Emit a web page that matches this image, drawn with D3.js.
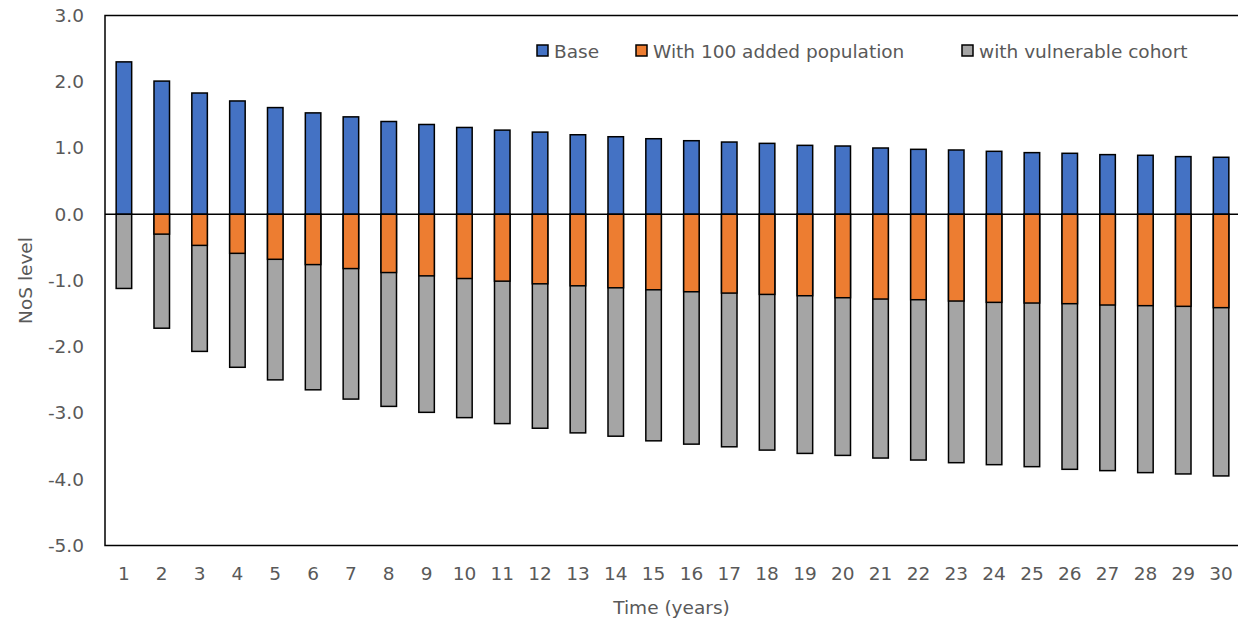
<!DOCTYPE html>
<html>
<head>
<meta charset="utf-8">
<script src="https://cdn.jsdelivr.net/npm/d3@7"></script>
<style>
body { margin: 0; background: #fff; }
svg { display: block; }
text { font-family: "DejaVu Sans", sans-serif; fill: #595959; }
</style>
</head>
<body>
<svg id="chart" width="1238" height="623"></svg>
<script>
const years = d3.range(1, 31).map(String);
const baseValues = [2.30, 2.01, 1.83, 1.71, 1.61, 1.53, 1.47, 1.40, 1.355, 1.31,
  1.27, 1.24, 1.20, 1.17, 1.14, 1.11, 1.09, 1.07, 1.04, 1.03,
  1.00, 0.98, 0.97, 0.95, 0.93, 0.92, 0.90, 0.89, 0.87, 0.86];
const addedPopValues = [0.0, -0.30, -0.47, -0.59, -0.68, -0.76, -0.82, -0.88, -0.93, -0.97,
  -1.01, -1.05, -1.08, -1.11, -1.14, -1.17, -1.19, -1.21, -1.23, -1.26,
  -1.28, -1.29, -1.31, -1.33, -1.34, -1.35, -1.37, -1.38, -1.39, -1.41];
const vulnerableValues = [-1.12, -1.72, -2.07, -2.31, -2.50, -2.65, -2.79, -2.90, -2.99, -3.07,
  -3.16, -3.23, -3.30, -3.35, -3.42, -3.47, -3.51, -3.56, -3.61, -3.64,
  -3.68, -3.71, -3.75, -3.78, -3.81, -3.85, -3.87, -3.90, -3.92, -3.95];
const yTicks = [3, 2, 1, 0, -1, -2, -3, -4, -5];
const seriesNames = ["Base", "With 100 added population", "with vulnerable cohort"];
const seriesColors = ["#4472C4", "#ED7D31", "#A5A5A5"];

(function () {
const svg = d3.select("#chart");
const mLeft = 105, mRight = 1240, mTop = 15.5, mBottom = 545.5;
const FONT = '"DejaVu Sans", sans-serif';
const FS = "18.5px";

const x = d3.scaleBand().domain(years).range([mLeft, mRight]).paddingInner(0.59).paddingOuter(0.295);
const y = d3.scaleLinear().domain([-5, 3]).range([mBottom, mTop]);

const layers = [
  { vals: vulnerableValues, color: seriesColors[2] },
  { vals: addedPopValues, color: seriesColors[1] },
  { vals: baseValues, color: seriesColors[0] }
];
layers.forEach(l => {
  svg.append("g").selectAll("rect").data(l.vals).join("rect")
    .attr("x", (d, i) => x(years[i]))
    .attr("width", x.bandwidth())
    .attr("y", d => y(Math.max(0, d)))
    .attr("height", d => Math.abs(y(d) - y(0)))
    .attr("fill", l.color)
    .attr("stroke", "#000")
    .attr("stroke-width", 1.5)
    .attr("display", d => d === 0 ? "none" : null);
});

svg.append("line").attr("x1", mLeft).attr("x2", mRight)
  .attr("y1", y(0)).attr("y2", y(0)).attr("stroke", "#000").attr("stroke-width", 1.5);

svg.append("rect").attr("x", mLeft).attr("y", mTop)
  .attr("width", mRight - mLeft).attr("height", mBottom - mTop)
  .attr("fill", "none").attr("stroke", "#000").attr("stroke-width", 1.5);

const yAxis = d3.axisLeft(y).tickValues(yTicks).tickFormat(d => d.toFixed(1)).tickSize(0).tickPadding(21);
const gy = svg.append("g").attr("transform", `translate(${mLeft},0)`).call(yAxis);
gy.select(".domain").remove();
gy.selectAll("text").style("font-size", FS).attr("fill", "#595959").style("font-family", FONT);

const xAxis = d3.axisBottom(x).tickSize(0).tickPadding(21);
const gx = svg.append("g").attr("transform", `translate(0,${mBottom})`).call(xAxis);
gx.select(".domain").remove();
gx.selectAll("text").style("font-size", FS).attr("fill", "#595959").style("font-family", FONT);

svg.append("text").attr("transform", `translate(32,${(mTop + mBottom) / 2}) rotate(-90)`)
  .attr("text-anchor", "middle").style("font-size", FS).text("NoS level");
svg.append("text").attr("x", (mLeft + mRight) / 2 - 1).attr("y", 614)
  .attr("text-anchor", "middle").style("font-size", FS).text("Time (years)");

const legendX = [537, 636, 962];
seriesNames.forEach((n, i) => {
  svg.append("rect").attr("x", legendX[i]).attr("y", 45).attr("width", 11).attr("height", 11)
    .attr("fill", seriesColors[i]).attr("stroke", "#000").attr("stroke-width", 1.5);
  svg.append("text").attr("x", legendX[i] + 17).attr("y", 57.5)
    .style("font-size", FS).text(n);
});
})();
</script>
</body>
</html>
